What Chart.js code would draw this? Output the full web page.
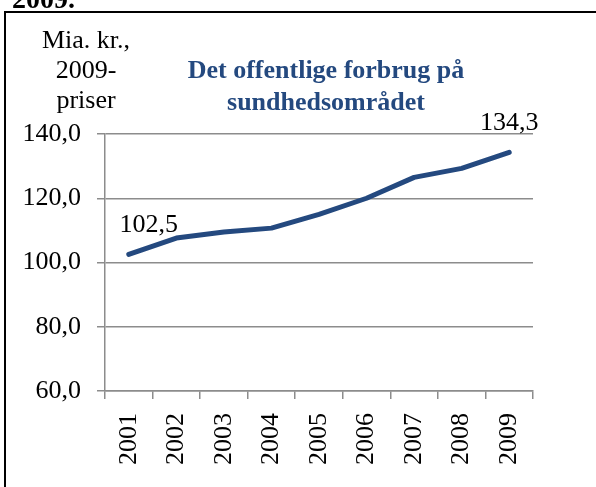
<!DOCTYPE html>
<html>
<head>
<meta charset="utf-8">
<script src="https://cdn.jsdelivr.net/npm/chart.js@4.4.0/dist/chart.umd.min.js"></script>
<style>
  html, body { margin: 0; padding: 0; background: #fff; }
  #wrap { width: 596px; height: 487px; position: relative; }
</style>
</head>
<body>
<div id="wrap"><canvas id="healthChart"></canvas></div>
<script>
// Data
const years = ['2001', '2002', '2003', '2004', '2005', '2006', '2007', '2008', '2009'];
const spending = [102.5, 107.6, 109.5, 110.7, 115.0, 120.0, 126.5, 129.3, 134.3];
const yTicks = [60, 80, 100, 120, 140];
const titleLines = ['Det offentlige forbrug på', 'sundhedsområdet'];
const yLabelLines = ['Mia. kr.,', '2009-', 'priser'];
const labelledPoints = [0, 8];

const serif = '"Liberation Serif", "Times New Roman", serif';
const comma = v => v.toFixed(1).replace('.', ',');

// frame, cut-off caption, title, axis label and point labels
const decorations = {
  id: 'decorations',
  afterDraw(chart) {
    const ctx = chart.ctx;
    ctx.save();
    // frame
    ctx.strokeStyle = '#000';
    ctx.lineWidth = 2;
    ctx.beginPath();
    ctx.moveTo(596, 12);
    ctx.lineTo(5, 12);
    ctx.lineTo(5, 487);
    ctx.stroke();
    // caption above the frame, mostly cut off
    ctx.fillStyle = '#000';
    ctx.font = 'bold 28px ' + serif;
    ctx.textAlign = 'left';
    ctx.textBaseline = 'alphabetic';
    ctx.fillText('2009.', 12, 8);
    // title
    ctx.fillStyle = '#24497f';
    ctx.font = 'bold 26px ' + serif;
    ctx.textAlign = 'center';
    ctx.fillText(titleLines[0], 326, 78);
    ctx.fillText(titleLines[1], 326, 110);
    // y-axis label
    ctx.fillStyle = '#000';
    ctx.font = '26px ' + serif;
    ctx.fillText(yLabelLines[0], 86, 48);
    ctx.fillText(yLabelLines[1], 86, 78);
    ctx.fillText(yLabelLines[2], 86, 108);
    // point labels
    const meta = chart.getDatasetMeta(0);
    labelledPoints.forEach(i => {
      const p = meta.data[i];
      const dx = i === 0 ? 20 : 0;
      ctx.fillText(comma(spending[i]), p.x + dx, p.y - 22);
    });
    ctx.restore();
  }
};

const ctx = document.getElementById('healthChart');
new Chart(ctx, {
  type: 'line',
  data: {
    labels: years,
    datasets: [{
      data: spending,
      borderColor: '#24497f',
      borderWidth: 5,
      pointRadius: 0,
      tension: 0,
      borderCapStyle: 'round',
      borderJoinStyle: 'round',
      fill: false
    }]
  },
  options: {
    responsive: true,
    maintainAspectRatio: false,
    animation: false,
    layout: { padding: { left: 0, top: 134, right: 63, bottom: 0 } },
    plugins: {
      legend: { display: false },
      tooltip: { enabled: false }
    },
    scales: {
      x: {
        offset: true,
        grid: { offset: true, drawOnChartArea: false, drawTicks: true, tickLength: 8, color: '#8c8c8c', lineWidth: 1.5 },
        border: { color: '#8c8c8c', width: 1.5 },
        ticks: {
          color: '#000',
          font: { family: serif, size: 26 },
          minRotation: 90,
          maxRotation: 90,
          padding: 14,
          autoSkip: false
        },
        afterFit(scale) { scale.height = 96; }
      },
      y: {
        min: 60,
        max: 140,
        afterBuildTicks(scale) { scale.ticks = yTicks.map(v => ({ value: v })); },
        grid: { color: '#8c8c8c', lineWidth: 1.5, tickLength: 8 },
        border: { color: '#8c8c8c', width: 1.5 },
        ticks: {
          color: '#000',
          font: { family: serif, size: 26 },
          padding: 16,
          callback: v => comma(v)
        },
        afterFit(scale) { scale.width = 105; }
      }
    }
  },
  plugins: [decorations]
});
</script>
</body>
</html>
